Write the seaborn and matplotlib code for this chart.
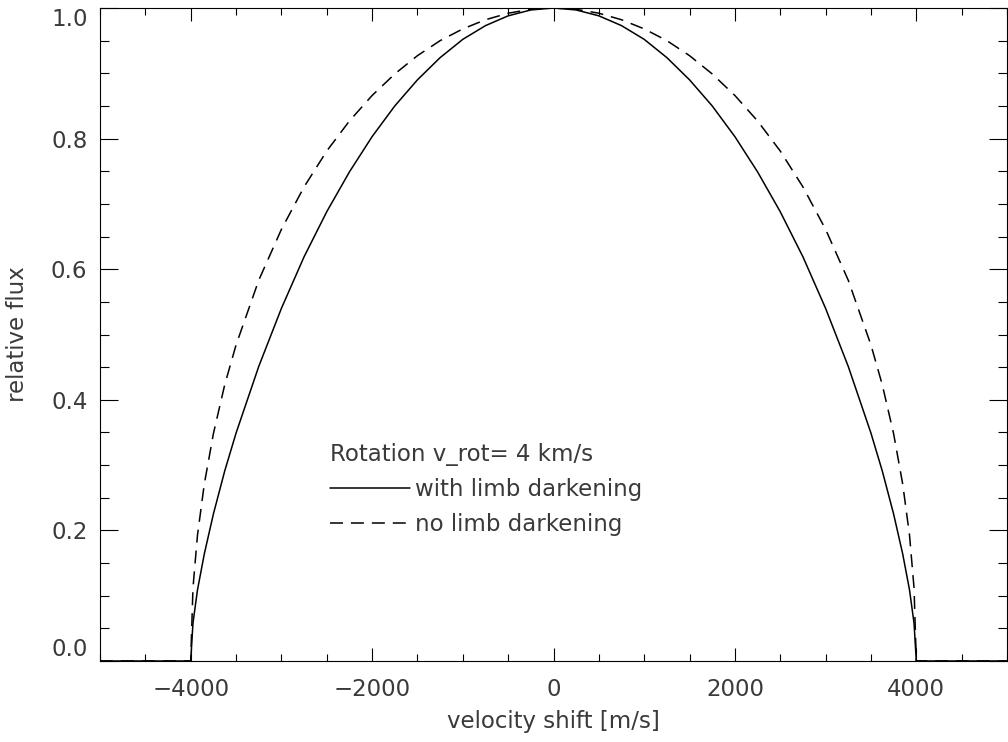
import numpy as np
import pandas as pd
import matplotlib
matplotlib.use("Agg")
import matplotlib.pyplot as plt
from matplotlib.ticker import MultipleLocator
import seaborn as sns

# velocity shift [m/s]
velocity = [-5000, -4000, -3975, -3925, -3850, -3750, -3625, -3500, -3250, -3000,
            -2750, -2500, -2250, -2000, -1750, -1500, -1250, -1000, -750, -500, -250,
            0, 250, 500, 750, 1000, 1250, 1500, 1750, 2000, 2250, 2500, 2750, 3000,
            3250, 3500, 3625, 3750, 3850, 3925, 3975, 4000, 5000]
# relative flux, with limb darkening (solid)
flux_limb = [0.0, 0.0, 0.058, 0.109, 0.164, 0.225, 0.291, 0.349, 0.451, 0.540,
             0.619, 0.688, 0.749, 0.803, 0.850, 0.890, 0.924, 0.952, 0.973, 0.988, 0.997,
             1.0, 0.997, 0.988, 0.973, 0.952, 0.924, 0.890, 0.850, 0.803, 0.749, 0.688,
             0.619, 0.540, 0.451, 0.349, 0.291, 0.225, 0.164, 0.109, 0.058, 0.0, 0.0]
# relative flux, no limb darkening (dashed)
flux_nolimb = [0.0, 0.0, 0.112, 0.193, 0.271, 0.348, 0.423, 0.484, 0.583, 0.661,
               0.726, 0.781, 0.827, 0.866, 0.899, 0.927, 0.950, 0.968, 0.982, 0.992, 0.998,
               1.0, 0.998, 0.992, 0.982, 0.968, 0.950, 0.927, 0.899, 0.866, 0.827, 0.781,
               0.726, 0.661, 0.583, 0.484, 0.423, 0.348, 0.271, 0.193, 0.112, 0.0, 0.0]

title_text = "Rotation v_rot= 4 km/s"
label_limb = "with limb darkening"
label_nolimb = "no limb darkening"

sns.set_style("ticks")
plt.rcParams["font.family"] = ["DejaVu Sans"]

TXT = "#3a3a3a"
FS = 16.5

fig = plt.figure(figsize=(10.08, 7.42), dpi=100)
ax = fig.add_axes([100 / 1008, 1 - 661 / 742, 907 / 1008, 653 / 742])

df = pd.DataFrame({"v": velocity, "limb": flux_limb, "nolimb": flux_nolimb})
sns.lineplot(data=df, x="v", y="limb", ax=ax, color="black", linewidth=1.1,
             label=label_limb, sort=False)
sns.lineplot(data=df, x="v", y="nolimb", ax=ax, color="black", linewidth=1.1,
             linestyle=(0, (8.5, 5.2)), label=label_nolimb, sort=False)

ax.set_xlim(-5000, 5000)
ax.set_ylim(0, 1)
ax.xaxis.set_major_locator(MultipleLocator(2000))
ax.xaxis.set_minor_locator(MultipleLocator(500))
ax.yaxis.set_major_locator(MultipleLocator(0.2))
ax.yaxis.set_minor_locator(MultipleLocator(0.05))
ax.yaxis.set_major_formatter(matplotlib.ticker.FormatStrFormatter("%.1f"))

for s in ax.spines.values():
    s.set_visible(True)
    s.set_linewidth(0.8)
    s.set_color("black")

ax.tick_params(which="both", direction="in", top=True, right=True,
               colors="black", labelcolor=TXT, labelsize=FS, width=0.8)
ax.tick_params(axis="x", which="major", length=9.5, pad=12)
ax.tick_params(axis="x", which="minor", length=5)
ax.tick_params(axis="y", which="major", length=13, pad=9)
ax.tick_params(axis="y", which="minor", length=6.5)

ax.set_xlabel("velocity shift [m/s]", fontsize=FS, color=TXT, labelpad=7)
ax.set_ylabel("relative flux", fontsize=FS, color=TXT, labelpad=16)

fig.canvas.draw()
for lab in ax.get_yticklabels():
    if lab.get_text() == "0.0":
        lab.set_va("bottom")
    elif lab.get_text() == "1.0":
        lab.set_va("top")

leg = ax.legend(title=title_text, frameon=False, loc="upper left",
                bbox_to_anchor=((330 - 100) / 907, (661 - 443) / 653),
                borderpad=0, borderaxespad=0, handlelength=3.5,
                handletextpad=0.2, labelspacing=0.52, fontsize=FS,
                title_fontsize=FS, alignment="left")
for t in leg.get_texts():
    t.set_color(TXT)
leg.get_title().set_color(TXT)

fig.savefig("out.png", dpi=100)
